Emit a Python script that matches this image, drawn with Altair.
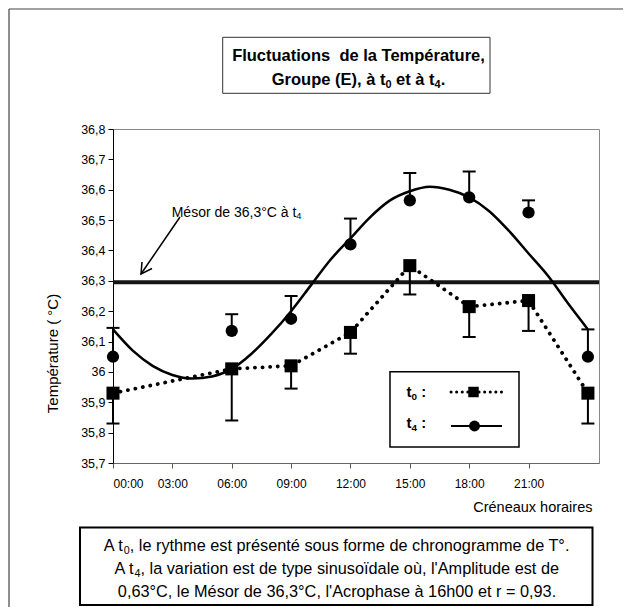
import json
import altair as alt
import pandas as pd

FONT = "Liberation Sans"

# ---- data ----
hours = [0, 6, 9, 12, 15, 18, 21, 24]
t0_mean = [35.93, 36.01, 36.02, 36.13, 36.35, 36.215, 36.235, 35.93]
t0_low = [35.83, 35.84, 35.945, 36.06, 36.255, 36.115, 36.135, 35.83]
t4_mean = [36.05, 36.135, 36.175, 36.42, 36.565, 36.575, 36.525, 36.05]
t4_high = [36.145, 36.19, 36.25, 36.505, 36.655, 36.66, 36.565, 36.14]

fit_hours = [0, 1, 2, 3, 4, 5, 6, 7, 8, 9, 10, 11, 12, 13, 14, 15, 16, 17, 18, 19, 20, 21, 22, 23, 24]
fit_values = [36.14, 36.07, 36.02, 35.99, 35.978, 35.985, 36.01, 36.06, 36.125, 36.20,
              36.285, 36.37, 36.44, 36.51, 36.565, 36.595, 36.61, 36.60, 36.575, 36.53,
              36.465, 36.39, 36.315, 36.225, 36.14]

mesor = 36.295

y_ticks = [35.7, 35.8, 35.9, 36.0, 36.1, 36.2, 36.3, 36.4, 36.5, 36.6, 36.7, 36.8]
x_ticks = [0, 3, 6, 9, 12, 15, 18, 21]
x_tick_labels = ["00:00", "03:00", "06:00", "09:00", "12:00", "15:00", "18:00", "21:00"]

# text pieces: (text, is_subscript)
title_line1 = "Fluctuations\u00a0 de la Température,"
title_line2 = [("Groupe (E), à t", 0), ("0", 1), (" et à t", 0), ("4", 1), (".", 0)]
note_line1 = [("A t", 0), ("0", 1), (", le rythme est présenté sous forme de chronogramme de T°.", 0)]
note_line2 = [("A t", 0), ("4", 1), (", la variation est de type sinusoïdale où, l'Amplitude est de", 0)]
note_line3 = "0,63°C, le Mésor de 36,3°C, l'Acrophase à 16h00 et r = 0,93."
mesor_label = [("Mésor de 36,3°C à t", 0), ("4", 1)]
legend_t0 = [("t", 0), ("0", 1), (" :", 0)]
legend_t4 = [("t", 0), ("4", 1), (" :", 0)]

# ---- tables ----
df = pd.DataFrame({"h": hours, "t0": t0_mean, "t0_low": t0_low, "t4": t4_mean, "t4_high": t4_high})
fit_df = pd.DataFrame({"h": fit_hours, "v": fit_values})
mesor_df = pd.DataFrame({"m": [mesor]})

x_scale = alt.Scale(domain=[0, 24.56], nice=False, zero=False)
y_scale = alt.Scale(domain=[35.7, 36.8], nice=False, zero=False)

x_axis = alt.Axis(
    values=x_ticks,
    labelExpr=json.dumps(x_tick_labels) + "[round(datum.value / 3)]",
    title="Créneaux horaires",
    titleX=479, titleY=44, titleAlign="right", titleBaseline="middle", titleAnchor="end",
    titleFontSize=14.5, titleFontWeight="normal", titleColor="black", titleFont=FONT,
    labelFont=FONT, labelFontSize=12, labelColor="black", labelPadding=10,
    tickSize=5, tickColor="#555", domainColor="#666", grid=False,
)
y_axis = alt.Axis(
    values=y_ticks,
    labelExpr="abs(datum.value - 36) < 0.001 ? '36' : replace(format(datum.value, '.1f'), '.', ',')",
    title="Température ( °C)",
    titleX=-61, titleY=224, titleAngle=-90, titleAlign="center", titleBaseline="middle",
    titleFontSize=15, titleFontWeight="normal", titleColor="black", titleFont=FONT,
    labelFont=FONT, labelFontSize=12.5, labelColor="black", labelPadding=3,
    tickSize=5, tickColor="black", domainColor="black", grid=False,
)


def X(f):
    return alt.X(f"{f}:Q", scale=x_scale, axis=x_axis)


def Y(f):
    return alt.Y(f"{f}:Q", scale=y_scale, axis=y_axis)


one = alt.Data(values=[{"a": 1}])

# ---- data layers ----
mesor_line = alt.Chart(mesor_df).mark_rule(strokeWidth=4, color="#151515").encode(y=Y("m"))
fit_line = alt.Chart(fit_df).mark_line(color="black", strokeWidth=2.5, interpolate="monotone").encode(x=X("h"), y=Y("v"))
t0_line = alt.Chart(df).mark_line(color="black", strokeWidth=3.8, strokeDash=[0.1, 7.5], strokeCap="round").encode(x=X("h"), y=Y("t0"))
t0_err = alt.Chart(df).mark_rule(color="black", strokeWidth=2).encode(x=X("h"), y=Y("t0"), y2=alt.Y2("t0_low"))
t0_cap = alt.Chart(df).mark_tick(color="black", orient="horizontal", size=13, thickness=2, opacity=1).encode(x=X("h"), y=Y("t0_low"))
t4_err = alt.Chart(df).mark_rule(color="black", strokeWidth=2).encode(x=X("h"), y=Y("t4"), y2=alt.Y2("t4_high"))
t4_cap = alt.Chart(df).mark_tick(color="black", orient="horizontal", size=13, thickness=2, opacity=1).encode(x=X("h"), y=Y("t4_high"))
t0_pts = alt.Chart(df).mark_square(color="black", size=170, opacity=1).encode(x=X("h"), y=Y("t0"))
t4_pts = alt.Chart(df).mark_circle(color="black", size=150, opacity=1).encode(x=X("h"), y=Y("t4"))

# ---- annotation helpers (pixel positions relative to plot origin) ----
W_REG = {" ": 278, "\u00a0": 278, "'": 191, "(": 333, ")": 333, ",": 278, ".": 278, ":": 278, "=": 584,
         "°": 400, "A": 667, "C": 722, "E": 667, "G": 778, "M": 833, "T": 611,
         "a": 556, "b": 556, "c": 500, "d": 556, "e": 556, "f": 278, "g": 556, "h": 556, "i": 222,
         "l": 222, "m": 833, "n": 556, "o": 556, "p": 556, "r": 333, "s": 500, "t": 278, "u": 556,
         "v": 500, "y": 500, "é": 556, "à": 556, "ï": 278, "ù": 556}
W_BOLD = {" ": 278, "\u00a0": 278, "(": 333, ")": 333, ",": 278, ".": 278, ":": 333,
          "E": 667, "G": 778, "a": 556, "à": 556, "e": 556, "t": 333, "o": 611, "u": 611,
          "p": 611, "r": 389}


def text_width(s, fs, bold):
    table = W_BOLD if bold else W_REG
    return sum(table.get(ch, 556) for ch in s) * fs / 1000.0


def rich(segments, x, y_mid, fs, bold=False, align="center"):
    sub_fs = fs * 0.66
    sizes = [sub_fs if s else fs for _, s in segments]
    widths = [text_width(t, f, bold) for (t, _), f in zip(segments, sizes)]
    cx = x - sum(widths) / 2 if align == "center" else x
    out = []
    for (t, s), f, w in zip(segments, sizes, widths):
        lead = len(t) - len(t.lstrip(" "))
        core = t.strip(" ")
        yb = y_mid + 0.36 * fs + (0.17 * fs if s else 0)
        out.append(alt.Chart(one).mark_text(
            text=core, font=FONT, fontSize=f, fontWeight="bold" if bold else "normal",
            align="left", baseline="alphabetic", color="black").encode(
            x=alt.value(cx + text_width(" " * lead, f, bold)), y=alt.value(yb)))
        cx += w
    return out


def rule(x, y, x2, y2, w=1.0, c="black"):
    return alt.Chart(one).mark_rule(color=c, strokeWidth=w).encode(
        x=alt.value(x), y=alt.value(y), x2=alt.value(x2), y2=alt.value(y2))


def box(x, y, x2, y2, w=1.0, c="black"):
    return alt.Chart(one).mark_rect(fill="white", stroke=c, strokeWidth=w).encode(
        x=alt.value(x), y=alt.value(y), x2=alt.value(x2), y2=alt.value(y2))


def txt(s, x, y, size=13, weight="normal", align="center"):
    return alt.Chart(one).mark_text(text=s, font=FONT, fontSize=size, fontWeight=weight,
                                    align=align, baseline="middle", color="black").encode(
        x=alt.value(x), y=alt.value(y))


def polyline(xs, ys, w=1.5):
    d = pd.DataFrame({"px": xs, "py": ys, "o": list(range(len(xs)))})
    return alt.Chart(d).mark_line(color="black", strokeWidth=w).encode(
        x=alt.X("px:Q", scale=None, axis=None), y=alt.Y("py:Q", scale=None, axis=None), order="o:Q")


frame = [rule(-104, -120, -104, 500, 1.2, "#444"), rule(-104, -120, 520, -120, 1.2, "#444")]

title_box = [box(109.7, -91.7, 377, -35.7, 1.0, "#333"),
             txt(title_line1, 245.5, -73, 16.5, "bold"),
             *rich(title_line2, 245.5, -50, 16.5, bold=True)]

note_box = [box(-33, 398.5, 479.5, 476, 2.0),
            *rich(note_line1, 224, 416.5, 16.3),
            *rich(note_line2, 224, 439.5, 16.3),
            txt(note_line3, 224, 463, 16.3)]

arrow = [*rich(mesor_label, 58.7, 83, 14, align="left"),
         polyline([67, 28], [88, 145]),
         polyline([39, 28, 29], [139.5, 145, 133])]

legend = [box(277, 242.7, 406, 318, 1.5),
          *rich(legend_t0, 293.5, 263, 15, bold=True, align="left"),
          *rich(legend_t4, 293.5, 294, 15, bold=True, align="left"),
          alt.Chart(one).mark_rule(color="black", strokeWidth=3, strokeDash=[0.1, 5.5], strokeCap="round").encode(
              x=alt.value(338), x2=alt.value(389), y=alt.value(263), y2=alt.value(263)),
          alt.Chart(one).mark_square(color="black", size=110, opacity=1).encode(x=alt.value(360.5), y=alt.value(263)),
          rule(338, 297, 389, 297, 2.2),
          alt.Chart(one).mark_circle(color="black", size=120, opacity=1).encode(x=alt.value(361.5), y=alt.value(297))]

chart = alt.layer(
    *frame, *title_box, *note_box,
    mesor_line, fit_line, t0_line, t0_err, t0_cap, t4_err, t4_cap, t0_pts, t4_pts,
    *arrow, *legend,
).properties(
    width=486, height=334,
    autosize=alt.AutoSizeParams(type="none"),
    padding={"left": 105, "top": 121, "right": 24, "bottom": 144},
    background="white",
).configure_view(stroke="#888", strokeWidth=1)

chart.save("out.html", embed_options={"renderer": "svg", "actions": False})
